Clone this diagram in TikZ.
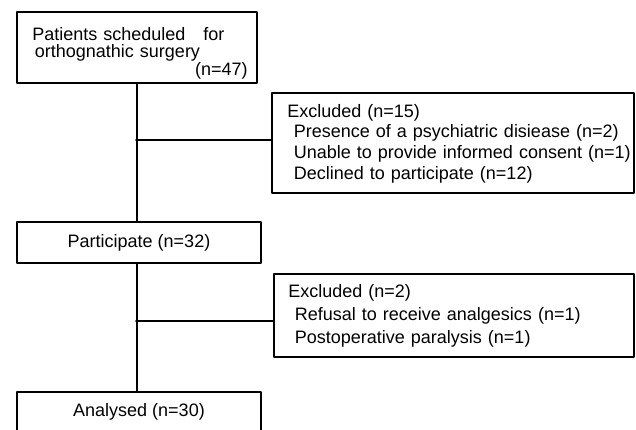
\documentclass[tikz,border=0pt]{standalone}
\usepackage{fontspec}
\setmainfont{Liberation Sans}
\begin{document}
\begin{tikzpicture}[x=0.75pt,y=-0.75pt,line cap=round,line join=round,
  box/.style={draw,line width=1.4pt,inner sep=0pt},
  txt/.style={inner sep=0pt,align=left,text width=260pt,font=\fontsize{13.5}{15.5}\selectfont}]
\useasboundingbox (0,0) rectangle (636,429);
% boxes
\node[box,minimum width=180pt,minimum height=53.25pt] (pat) at (137,47.5) {};
\node[box,minimum width=183pt,minimum height=30.75pt,font=\fontsize{13.5}{15.5}\selectfont] (part) at (139,242.5) {Participate (n=32)};
\node[box,minimum width=271.5pt,minimum height=75pt] (exa) at (453,143) {};
\node[box,minimum width=270pt,minimum height=62.25pt] (exb) at (454,315.5) {};
\node[box,minimum width=183pt,minimum height=30pt,font=\fontsize{13.5}{15.5}\selectfont] (ana) at (139,412) {Analysed (n=30)};
% texts
\node[txt,anchor=base west,font=\fontsize{13.5}{12.75}\selectfont] (pattxt) at (32,40)
  {Patients scheduled\ \ \ for\\\hspace{2pt}orthognathic surgery};
\node[inner sep=0pt,anchor=base east,font=\fontsize{13.5}{15.5}\selectfont] (patn) at (248,75) {(n=47)};
\node[txt,anchor=base west] (exatxt) at (287,117)
  {Excluded (n=15)\\
   \hspace{5pt}Presence of a psychiatric disiease (n=2)\\
   \hspace{5pt}Unable to provide informed consent (n=1)\\
   \hspace{5pt}Declined to participate (n=12)};
\node[txt,anchor=base west,font=\fontsize{13.5}{17.25}\selectfont] (exbtxt) at (288,297)
  {Excluded (n=2)\\
   \hspace{5pt}Refusal to receive analgesics (n=1)\\
   \hspace{5pt}Postoperative paralysis (n=1)};
% connectors
\coordinate (ja) at (136,140);
\coordinate (jb) at (136,321);
\draw[line width=1.4pt] (pat.south) -- (pat.south |- part.north);
\draw[line width=1.4pt] (pat.south |- part.south) -- (pat.south |- ana.north);
\draw[line width=1.4pt] (ja) -- (ja -| exa.west);
\draw[line width=1.4pt] (jb) -- (jb -| exb.west);
\end{tikzpicture}
\end{document}
